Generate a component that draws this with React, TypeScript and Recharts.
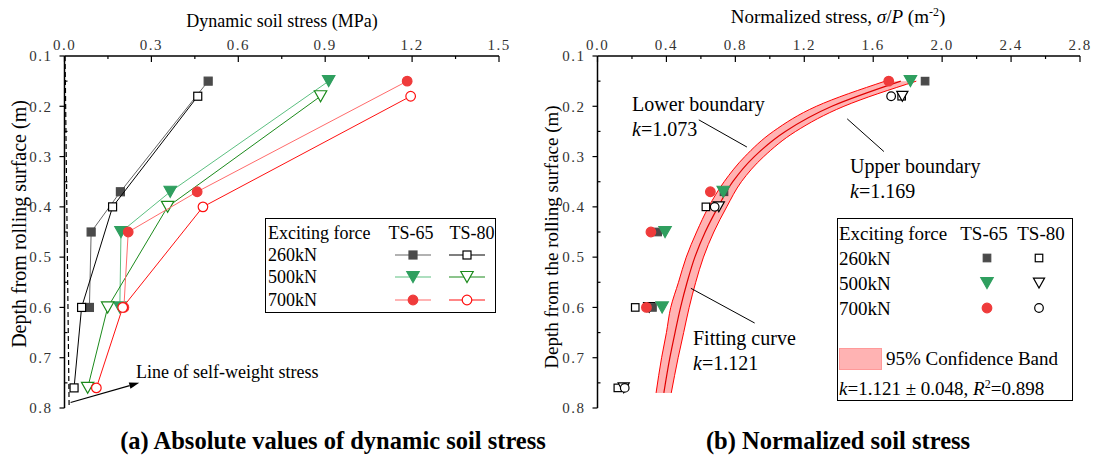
import { ScatterChart, ComposedChart, Scatter, Area, Line, XAxis, YAxis, ReferenceLine } from 'recharts';

const SERIF = '"Liberation Serif", "Times New Roman", serif';

// sensor depths (m)
const depthTS65 = [0.15, 0.37, 0.45, 0.6];
const depthTS80 = [0.18, 0.4, 0.6, 0.76];

// (a) dynamic soil stress, MPa
const stress65_260 = [0.496, 0.193, 0.092, 0.086];
const stress80_260 = [0.46, 0.166, 0.059, 0.033];
const stress65_500 = [0.912, 0.365, 0.195, 0.191];
const stress80_500 = [0.884, 0.356, 0.149, 0.08];
const stress65_700 = [1.183, 0.458, 0.22, 0.205];
const stress80_700 = [1.195, 0.478, 0.201, 0.11];

// self-weight stress line
const selfWeightDepth = [0.1, 0.8];
const selfWeightStress = [0.002, 0.016];

// (b) normalized stress sigma/P, m^-2
const norm65_260 = [1.901, 0.734, 0.349, 0.319];
const norm80_260 = [1.765, 0.629, 0.219, 0.118];
const norm65_500 = [1.816, 0.73, 0.392, 0.375];
const norm80_500 = [1.769, 0.704, 0.3, 0.152];
const norm65_700 = [1.69, 0.655, 0.31, 0.284];
const norm80_700 = [1.704, 0.68, 0.29, 0.158];

// fitting curve and 95% band
const fitDepth = [0.15, 0.2, 0.25, 0.3, 0.35, 0.4, 0.45, 0.5, 0.55, 0.6, 0.65, 0.7, 0.77];
const lowerBound = [1.67, 1.27, 1.02, 0.855, 0.735, 0.645, 0.575, 0.515, 0.47, 0.425, 0.4, 0.372, 0.34];
const fitCurve = [1.76, 1.36, 1.09, 0.91, 0.785, 0.7, 0.625, 0.565, 0.52, 0.482, 0.45, 0.42, 0.385];
const upperBound = [1.85, 1.43, 1.15, 0.965, 0.835, 0.75, 0.675, 0.615, 0.57, 0.532, 0.5, 0.468, 0.428];

// axis ticks
const depthTicks = [0.1, 0.15, 0.2, 0.25, 0.3, 0.35, 0.4, 0.45, 0.5, 0.55, 0.6, 0.65, 0.7, 0.75, 0.8];
const stressTicks = [0, 0.15, 0.3, 0.45, 0.6, 0.75, 0.9, 1.05, 1.2, 1.35, 1.5];
const normTicks = [0, 0.2, 0.4, 0.6, 0.8, 1.0, 1.2, 1.4, 1.6, 1.8, 2.0, 2.2, 2.4, 2.6, 2.8];

// annotation segments [x1, d1, x2, d2]
const arrowSeg = [0.021, 0.789, 0.258, 0.75];
const lowerLeader = [0.588, 0.227, 0.867, 0.281];
const upperLeader = [1.449, 0.225, 1.662, 0.29];
const fitLeader = [0.542, 0.562, 0.912, 0.631];

const pts = (vs: number[], ds: number[]) => vs.map((v, i) => ({ v, d: ds[i] }));
const bandData = fitDepth.map((d, i) => ({
  d,
  band: [lowerBound[i], upperBound[i]],
  lo: lowerBound[i],
  fit: fitCurve[i],
  hi: upperBound[i],
}));

const DARK = '#4a4a4a';
const GREEN = '#2f9f5f';
const GREEN2 = '#1b8a1b';
const RED = '#ef3b3b';
const RED2 = '#ff1010';

type Kind = 'sq' | 'tri' | 'cir';

function Mark({ cx, cy, kind, fill, stroke, s = 8 }: { cx: number; cy: number; kind: Kind; fill: string; stroke: string; s?: number }) {
  if (cx == null || cy == null) return <g />;
  if (kind === 'sq') {
    return <rect x={cx - s / 2} y={cy - s / 2} width={s} height={s} fill={fill} stroke={stroke} strokeWidth={1.2} />;
  }
  if (kind === 'tri') {
    const w = s * 0.62;
    const h = s * 0.55;
    return (
      <polygon
        points={`${cx - w},${cy - h} ${cx + w},${cy - h} ${cx},${cy + h}`}
        fill={fill}
        stroke={stroke}
        strokeWidth={1.2}
      />
    );
  }
  return <circle cx={cx} cy={cy} r={s / 2 + 0.3} fill={fill} stroke={stroke} strokeWidth={1.2} />;
}

const shapeOf = (kind: Kind, fill: string, stroke: string, s?: number) => (p: any) =>
  <Mark cx={p.cx} cy={p.cy} kind={kind} fill={fill} stroke={stroke} s={s} />;

const DepthTick = (props: any) => {
  const { x, y, payload } = props;
  const v = payload.value as number;
  const major = Math.round(v * 100) % 10 === 0;
  if (!major) return <line x1={x} x2={x + 3} y1={y} y2={y} stroke="#000" strokeWidth={1.2} />;
  return (
    <g>
      <line x1={x - 5} x2={x} y1={y} y2={y} stroke="#000" strokeWidth={1.2} />
      <text x={x - 12} y={y} dy="0.35em" textAnchor="end" fontFamily={SERIF} fontSize={15} letterSpacing={1.5} fill="#333">
        {v.toFixed(1)}
      </text>
    </g>
  );
};

const makeTopTick = (step: number) => (props: any) => {
  const { x, y, payload } = props;
  const v = payload.value as number;
  const major = Math.abs(v / step - Math.round(v / step)) < 1e-6;
  if (!major) return <line x1={x} x2={x} y1={y} y2={y + 3} stroke="#000" strokeWidth={1.2} />;
  return (
    <g>
      <line x1={x} x2={x} y1={y} y2={y + 6} stroke="#000" strokeWidth={1.2} />
      <text x={x} y={y - 11} dy="0.35em" textAnchor="middle" fontFamily={SERIF} fontSize={15} letterSpacing={1.5} fill="#333">
        {v.toFixed(1)}
      </text>
    </g>
  );
};

const Arrow = (p: any) => {
  const { x1, y1, x2, y2 } = p;
  const a = Math.atan2(y2 - y1, x2 - x1);
  const L = 10;
  const W = 3.2;
  const bx = x2 - L * Math.cos(a);
  const by = y2 - L * Math.sin(a);
  const tri = `${x2},${y2} ${bx - W * Math.sin(a)},${by + W * Math.cos(a)} ${bx + W * Math.sin(a)},${by - W * Math.cos(a)}`;
  return (
    <g>
      <line x1={x1} y1={y1} x2={bx} y2={by} stroke="#000" strokeWidth={1.2} />
      <polygon points={tri} fill="#000" />
    </g>
  );
};

const Leader = (p: any) => <line x1={p.x1} y1={p.y1} x2={p.x2} y2={p.y2} stroke="#000" strokeWidth={1} />;

function T({ x, y, size = 18, children, center, bold, rotate }: any) {
  return (
    <div
      style={{
        position: 'absolute',
        left: x,
        top: y,
        transform: `${center ? 'translate(-50%,-50%)' : 'translateY(-50%)'}${rotate ? ' rotate(-90deg)' : ''}`,
        fontSize: size,
        fontWeight: bold ? 'bold' : 'normal',
        whiteSpace: 'nowrap',
        lineHeight: 1,
        color: '#000',
      }}
    >
      {children}
    </div>
  );
}

function LegendIcon({ kind, fill, stroke, line, x, y, s = 8 }: any) {
  return (
    <svg width={40} height={16} style={{ position: 'absolute', left: x - 20, top: y - 8 }}>
      {line && <line x1={2} x2={38} y1={8} y2={8} stroke={line} strokeWidth={1.2} />}
      <Mark cx={20} cy={8} kind={kind} fill={fill} stroke={stroke} s={s} />
    </svg>
  );
}

const K = () => <i>k</i>;

export default function App() {
  return (
    <div style={{ position: 'absolute', left: 0, top: 0, width: 1093, height: 460, background: '#fff', fontFamily: SERIF, overflow: 'hidden' }}>
      {/* (a) absolute stress */}
      <div style={{ position: 'absolute', left: 0, top: 0 }}>
        <ScatterChart width={540} height={460} margin={{ top: 26, right: 41, bottom: 52, left: 24.5 }}>
          <XAxis
            type="number"
            dataKey="v"
            orientation="top"
            height={30}
            domain={[0, 1.5]}
            ticks={stressTicks}
            interval={0}
            tickSize={0}
            tickMargin={0}
            tickLine={false}
            tick={makeTopTick(0.3)}
            axisLine={{ stroke: '#000', strokeWidth: 1.5 }}
            allowDataOverflow
          />
          <YAxis
            type="number"
            dataKey="d"
            width={40}
            domain={[0.1, 0.8]}
            reversed
            ticks={depthTicks}
            interval={0}
            tickSize={0}
            tickMargin={0}
            tickLine={false}
            tick={DepthTick}
            axisLine={{ stroke: '#000', strokeWidth: 1.5 }}
            allowDataOverflow
          />
          <Scatter data={pts(selfWeightStress, selfWeightDepth)} shape={() => <g />} line={{ stroke: '#000', strokeWidth: 1.2, strokeDasharray: '5 3' }} isAnimationActive={false} />
          <Scatter data={pts(stress65_260, depthTS65)} shape={shapeOf('sq', DARK, DARK)} line={{ stroke: '#666', strokeWidth: 1 }} isAnimationActive={false} />
          <Scatter data={pts(stress80_260, depthTS80)} shape={shapeOf('sq', '#fff', '#000')} line={{ stroke: '#000', strokeWidth: 1 }} isAnimationActive={false} />
          <Scatter data={pts(stress65_500, depthTS65)} shape={shapeOf('tri', GREEN, GREEN, 10)} line={{ stroke: '#5cbf80', strokeWidth: 1 }} isAnimationActive={false} />
          <Scatter data={pts(stress80_500, depthTS80)} shape={shapeOf('tri', '#fff', GREEN2, 10)} line={{ stroke: GREEN2, strokeWidth: 1 }} isAnimationActive={false} />
          <Scatter data={pts(stress65_700, depthTS65)} shape={shapeOf('cir', RED, RED, 9)} line={{ stroke: '#ff6b6b', strokeWidth: 1 }} isAnimationActive={false} />
          <Scatter data={pts(stress80_700, depthTS80)} shape={shapeOf('cir', '#fff', RED2, 9)} line={{ stroke: RED2, strokeWidth: 1 }} isAnimationActive={false} />
          <ReferenceLine
            segment={[{ x: arrowSeg[0], y: arrowSeg[1] }, { x: arrowSeg[2], y: arrowSeg[3] }]}
            shape={Arrow}
            ifOverflow="visible"
          />
        </ScatterChart>
      </div>

      <T x={282} y={21} center>Dynamic soil stress (MPa)</T>
      <T x={19} y={224} size={20} center rotate>Depth from rolling surface (m)</T>
      <T x={136} y={372} size={18}>Line of self-weight stress</T>

      <div style={{ position: 'absolute', left: 265, top: 218, width: 229, height: 93, border: '1.5px solid #000' }} />
      <T x={268} y={233}>Exciting force</T>
      <T x={411} y={233} center>TS-65</T>
      <T x={472} y={233} center>TS-80</T>
      <T x={268} y={255}>260kN</T>
      <T x={268} y={277}>500kN</T>
      <T x={268} y={300}>700kN</T>
      <LegendIcon x={413} y={255} kind="sq" fill={DARK} stroke={DARK} line="#666" />
      <LegendIcon x={467} y={255} kind="sq" fill="#fff" stroke="#000" line="#000" />
      <LegendIcon x={413} y={277} kind="tri" fill={GREEN} stroke={GREEN} line="#5cbf80" s={10} />
      <LegendIcon x={467} y={277} kind="tri" fill="#fff" stroke={GREEN2} line={GREEN2} s={10} />
      <LegendIcon x={413} y={300} kind="cir" fill={RED} stroke={RED} line="#ff6b6b" s={9} />
      <LegendIcon x={467} y={300} kind="cir" fill="#fff" stroke={RED2} line={RED2} s={9} />

      <T x={333} y={441} size={24.5} bold center>(a) Absolute values of dynamic soil stress</T>

      {/* (b) normalized stress */}
      <div style={{ position: 'absolute', left: 545, top: 0 }}>
        <ComposedChart layout="vertical" width={548} height={460} data={bandData} margin={{ top: 26, right: 13, bottom: 52, left: 12.5 }}>
          <XAxis
            type="number"
            dataKey="v"
            orientation="top"
            height={30}
            domain={[0, 2.8]}
            ticks={normTicks}
            interval={0}
            tickSize={0}
            tickMargin={0}
            tickLine={false}
            tick={makeTopTick(0.4)}
            axisLine={{ stroke: '#000', strokeWidth: 1.5 }}
            allowDataOverflow
          />
          <YAxis
            type="number"
            dataKey="d"
            width={40}
            domain={[0.1, 0.8]}
            ticks={depthTicks}
            interval={0}
            tickSize={0}
            tickMargin={0}
            tickLine={false}
            tick={DepthTick}
            axisLine={{ stroke: '#000', strokeWidth: 1.5 }}
            allowDataOverflow
          />
          <Area dataKey="band" type="monotone" fill="#ffb3b3" fillOpacity={1} stroke="none" isAnimationActive={false} />
          <Line dataKey="lo" type="monotone" stroke="#ff0000" strokeWidth={1} dot={false} isAnimationActive={false} />
          <Line dataKey="fit" type="monotone" stroke="#e00000" strokeWidth={1.2} dot={false} isAnimationActive={false} />
          <Line dataKey="hi" type="monotone" stroke="#ff0000" strokeWidth={1} dot={false} isAnimationActive={false} />
          <Scatter data={pts(norm80_260, depthTS80)} shape={shapeOf('sq', '#fff', '#000', 7.5)} isAnimationActive={false} />
          <Scatter data={pts(norm80_500, depthTS80)} shape={shapeOf('tri', '#fff', '#000', 9)} isAnimationActive={false} />
          <Scatter data={pts(norm80_700, depthTS80)} shape={shapeOf('cir', '#fff', '#000', 8)} isAnimationActive={false} />
          <Scatter data={pts(norm65_260, depthTS65)} shape={shapeOf('sq', DARK, DARK, 7.5)} isAnimationActive={false} />
          <Scatter data={pts(norm65_500, depthTS65)} shape={shapeOf('tri', GREEN, GREEN, 10)} isAnimationActive={false} />
          <Scatter data={pts(norm65_700, depthTS65)} shape={shapeOf('cir', RED, RED, 9)} isAnimationActive={false} />
          <ReferenceLine segment={[{ x: lowerLeader[0], y: lowerLeader[1] }, { x: lowerLeader[2], y: lowerLeader[3] }]} shape={Leader} ifOverflow="visible" />
          <ReferenceLine segment={[{ x: upperLeader[0], y: upperLeader[1] }, { x: upperLeader[2], y: upperLeader[3] }]} shape={Leader} ifOverflow="visible" />
          <ReferenceLine segment={[{ x: fitLeader[0], y: fitLeader[1] }, { x: fitLeader[2], y: fitLeader[3] }]} shape={Leader} ifOverflow="visible" />
        </ComposedChart>
      </div>

      <T x={838} y={16} size={19} center>
        Normalized stress, <i>σ</i>/<i>P</i> (m<sup style={{ fontSize: 12 }}>-2</sup>)
      </T>
      <T x={551} y={237} size={19} center rotate>Depth from the rolling surface (m)</T>

      <T x={632} y={104} size={20}>Lower boundary</T>
      <T x={632} y={129} size={20}><K />=1.073</T>
      <T x={850} y={166} size={20}>Upper boundary</T>
      <T x={850} y={191} size={20}><K />=1.169</T>
      <T x={693} y={338} size={20}>Fitting curve</T>
      <T x={693} y={363} size={20}><K />=1.121</T>

      <div style={{ position: 'absolute', left: 837, top: 218, width: 234, height: 181, border: '1.5px solid #000', background: '#fff' }} />
      <T x={839} y={233} size={19}>Exciting force</T>
      <T x={984} y={233} size={19} center>TS-65</T>
      <T x={1041} y={233} size={19} center>TS-80</T>
      <T x={839} y={258} size={19}>260kN</T>
      <T x={839} y={283} size={19}>500kN</T>
      <T x={839} y={308} size={19}>700kN</T>
      <LegendIcon x={987} y={258} kind="sq" fill={DARK} stroke={DARK} s={7.5} />
      <LegendIcon x={1039} y={258} kind="sq" fill="#fff" stroke="#000" s={7.5} />
      <LegendIcon x={987} y={283} kind="tri" fill={GREEN} stroke={GREEN} s={10} />
      <LegendIcon x={1039} y={283} kind="tri" fill="#fff" stroke="#000" s={9} />
      <LegendIcon x={987} y={308} kind="cir" fill={RED} stroke={RED} s={9} />
      <LegendIcon x={1039} y={308} kind="cir" fill="#fff" stroke="#000" s={8} />
      <div style={{ position: 'absolute', left: 839, top: 348, width: 41, height: 20, background: '#ffb3b3', border: '1px solid #ff9a9a' }} />
      <T x={886} y={358} size={19}>95% Confidence Band</T>
      <T x={839} y={388} size={19}>
        <K />=1.121 ± 0.048, <i>R</i><sup style={{ fontSize: 12 }}>2</sup>=0.898
      </T>

      <T x={838} y={441} size={24.5} bold center>(b) Normalized soil stress</T>
    </div>
  );
}
